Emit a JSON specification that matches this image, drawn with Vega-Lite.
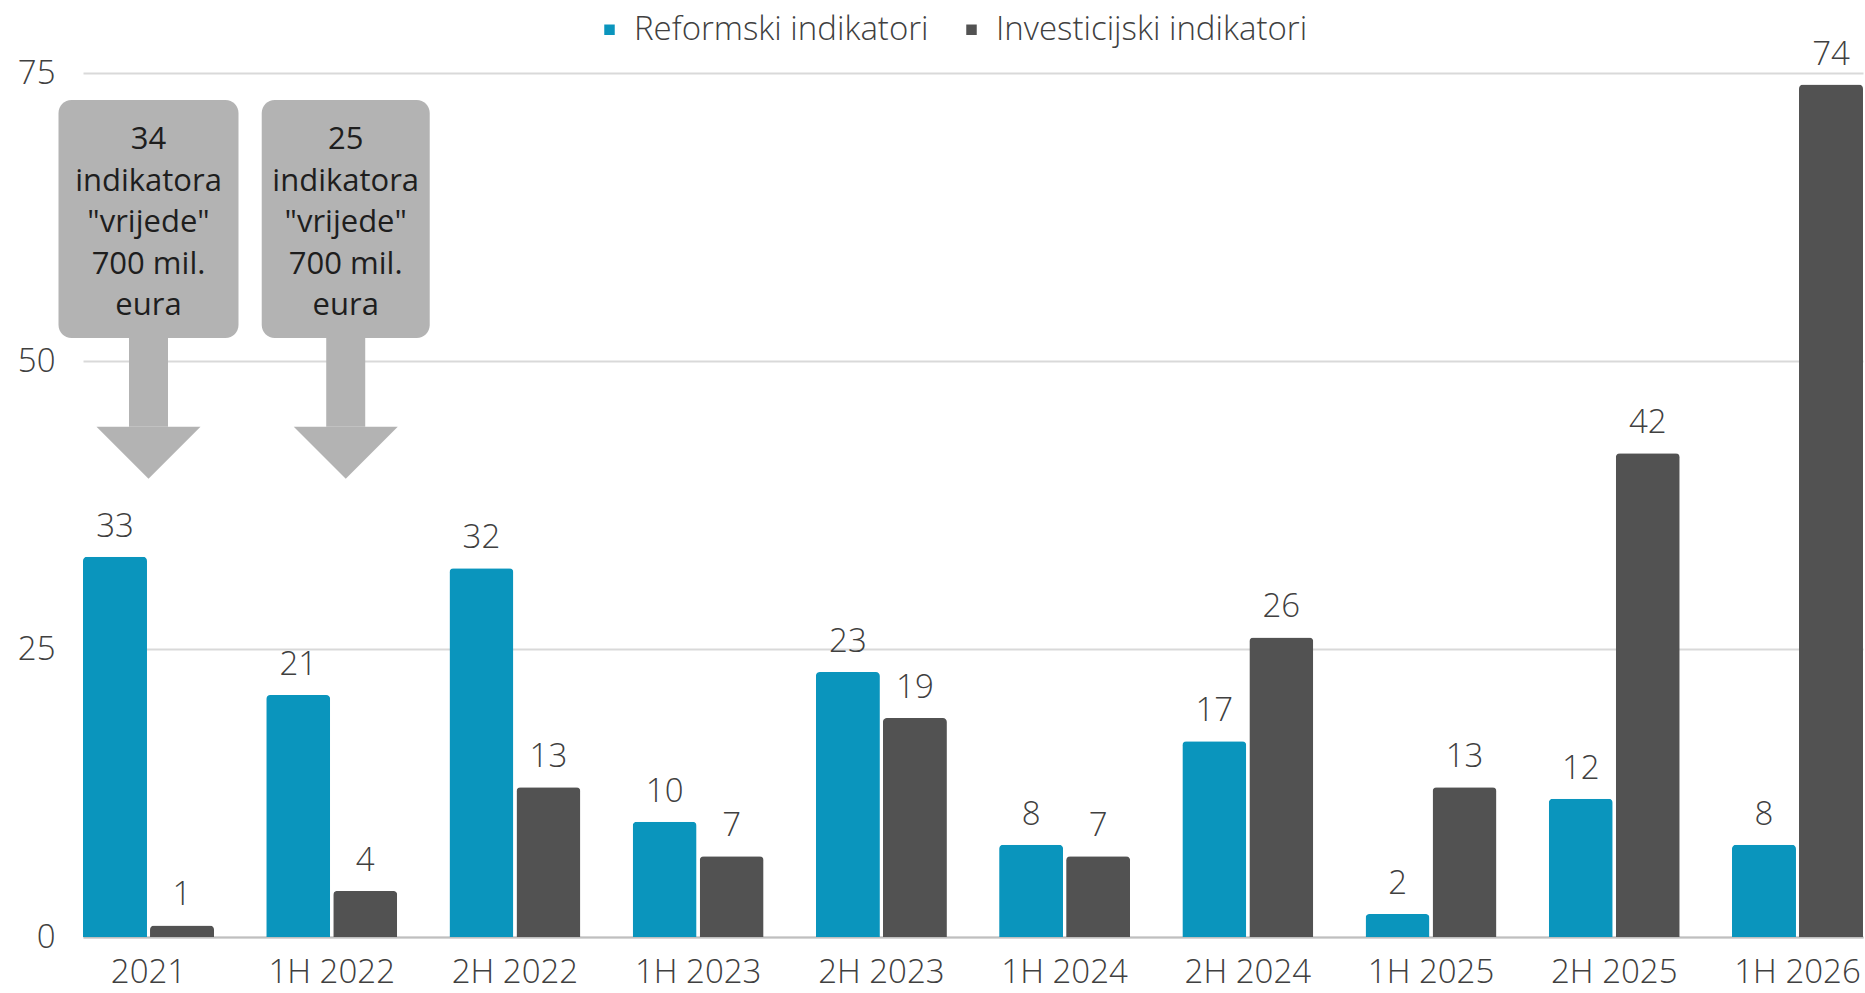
{
  "$schema": "https://vega.github.io/schema/vega-lite/v6.json",
  "width": 1780,
  "height": 864,
  "autosize": {"type": "none"},
  "padding": {"left": 83, "top": 73, "right": 2, "bottom": 56},
  "background": "white",
  "config": {"view": {"stroke": null}, "font": "Open Sans"},
  "datasets": {
    "bars": [
      {"period": "2021", "series": "Reformski indikatori", "value": 33},
      {"period": "2021", "series": "Investicijski indikatori", "value": 1},
      {"period": "1H 2022", "series": "Reformski indikatori", "value": 21},
      {"period": "1H 2022", "series": "Investicijski indikatori", "value": 4},
      {"period": "2H 2022", "series": "Reformski indikatori", "value": 32},
      {"period": "2H 2022", "series": "Investicijski indikatori", "value": 13},
      {"period": "1H 2023", "series": "Reformski indikatori", "value": 10},
      {"period": "1H 2023", "series": "Investicijski indikatori", "value": 7},
      {"period": "2H 2023", "series": "Reformski indikatori", "value": 23},
      {"period": "2H 2023", "series": "Investicijski indikatori", "value": 19},
      {"period": "1H 2024", "series": "Reformski indikatori", "value": 8},
      {"period": "1H 2024", "series": "Investicijski indikatori", "value": 7},
      {"period": "2H 2024", "series": "Reformski indikatori", "value": 17},
      {"period": "2H 2024", "series": "Investicijski indikatori", "value": 26},
      {"period": "1H 2025", "series": "Reformski indikatori", "value": 2},
      {"period": "1H 2025", "series": "Investicijski indikatori", "value": 13},
      {"period": "2H 2025", "series": "Reformski indikatori", "value": 12},
      {"period": "2H 2025", "series": "Investicijski indikatori", "value": 42},
      {"period": "1H 2026", "series": "Reformski indikatori", "value": 8},
      {"period": "1H 2026", "series": "Investicijski indikatori", "value": 74}
    ],
    "notes": [
      {"period": "2021", "boxTop": 72.66, "boxBottom": 52.0, "shaftBottom": 44.3, "textY": 68.4, "label": "34\nindikatora\n\"vrijede\"\n700 mil.\neura"},
      {"period": "1H 2022", "boxTop": 72.66, "boxBottom": 52.0, "shaftBottom": 44.3, "textY": 68.4, "label": "25\nindikatora\n\"vrijede\"\n700 mil.\neura"}
    ]
  },
  "encoding": {
    "x": {
      "field": "period",
      "type": "nominal",
      "sort": ["2021", "1H 2022", "2H 2022", "1H 2023", "2H 2023", "1H 2024", "2H 2024", "1H 2025", "2H 2025", "1H 2026"],
      "scale": {"domain": ["2021", "1H 2022", "2H 2022", "1H 2023", "2H 2023", "1H 2024", "2H 2024", "1H 2025", "2H 2025", "1H 2026"], "paddingInner": 0.285, "paddingOuter": 0},
      "title": null,
      "axis": {
        "labelAngle": 0,
        "labelFontSize": 33,
        "labelFontWeight": 300,
        "labelColor": "#404040",
        "labelPadding": 19,
        "ticks": false,
        "domainColor": "#bfbfbf",
        "domainWidth": 2,
        "grid": false
      }
    }
  },
  "layer": [
    {
      "data": {"name": "bars"},
      "mark": {"type": "bar", "cornerRadiusEnd": 4},
      "encoding": {
        "xOffset": {"field": "series", "type": "nominal", "sort": ["Reformski indikatori", "Investicijski indikatori"], "scale": {"paddingInner": 0.045, "paddingOuter": 0}},
        "y": {
          "field": "value",
          "type": "quantitative",
          "scale": {"domain": [0, 75], "nice": false},
          "title": null,
          "axis": {
            "values": [0, 25, 50, 75],
            "labelFontSize": 33,
            "labelFontWeight": 300,
            "labelColor": "#404040",
            "labelPadding": 28,
            "ticks": false,
            "domain": false,
            "grid": true,
            "gridColor": "#d9d9d9",
            "gridWidth": 2
          }
        },
        "color": {
          "field": "series",
          "type": "nominal",
          "scale": {"domain": ["Reformski indikatori", "Investicijski indikatori"], "range": ["#0a95bd", "#525252"]},
          "legend": {
            "orient": "none",
            "legendX": 510,
            "legendY": -60,
            "direction": "horizontal",
            "title": null,
            "symbolType": "square",
            "symbolSize": 110,
            "symbolStrokeWidth": 0,
            "labelFontSize": 33,
            "labelFontWeight": 300,
            "labelColor": "#404040",
            "labelLimit": 0,
            "labelOffset": 8,
            "columnPadding": 26
          }
        }
      }
    },
    {
      "data": {"name": "bars"},
      "mark": {"type": "text", "baseline": "alphabetic", "dy": -20, "fontSize": 33, "fontWeight": 300, "color": "#404040"},
      "encoding": {
        "xOffset": {"field": "series", "type": "nominal", "sort": ["Reformski indikatori", "Investicijski indikatori"], "scale": {"paddingInner": 0.045, "paddingOuter": 0}},
        "y": {"field": "value", "type": "quantitative"},
        "text": {"field": "value", "type": "quantitative"}
      }
    },
    {
      "data": {"name": "notes"},
      "transform": [{"filter": "datum.period === '2021'"}],
      "layer": [
        {
          "mark": {"type": "bar", "width": 180, "cornerRadius": 13, "color": "#b3b3b3"},
          "encoding": {"y": {"field": "boxTop", "type": "quantitative"}, "y2": {"field": "boxBottom"}}
        },
        {
          "mark": {"type": "bar", "width": 39, "color": "#b3b3b3"},
          "encoding": {"y": {"field": "boxBottom", "type": "quantitative"}, "y2": {"field": "shaftBottom"}}
        },
        {
          "mark": {"type": "point", "shape": "M-1,0L1,0L0,1Z", "size": 10816, "filled": true, "opacity": 1, "color": "#b3b3b3", "strokeWidth": 0},
          "encoding": {"y": {"field": "shaftBottom", "type": "quantitative"}}
        },
        {
          "mark": {"type": "text", "lineBreak": "\n", "lineHeight": 41.5, "baseline": "alphabetic", "align": "center", "fontSize": 31, "color": "#1e1e1e"},
          "encoding": {"y": {"field": "textY", "type": "quantitative"}, "text": {"field": "label", "type": "nominal"}}
        }
      ]
    },
    {
      "data": {"name": "notes"},
      "transform": [{"filter": "datum.period === '1H 2022'"}],
      "layer": [
        {
          "mark": {"type": "bar", "width": 168, "cornerRadius": 13, "color": "#b3b3b3", "xOffset": 14},
          "encoding": {"y": {"field": "boxTop", "type": "quantitative"}, "y2": {"field": "boxBottom"}}
        },
        {
          "mark": {"type": "bar", "width": 39, "color": "#b3b3b3", "xOffset": 14},
          "encoding": {"y": {"field": "boxBottom", "type": "quantitative"}, "y2": {"field": "shaftBottom"}}
        },
        {
          "mark": {"type": "point", "shape": "M-1,0L1,0L0,1Z", "size": 10816, "filled": true, "opacity": 1, "color": "#b3b3b3", "strokeWidth": 0, "xOffset": 14},
          "encoding": {"y": {"field": "shaftBottom", "type": "quantitative"}}
        },
        {
          "mark": {"type": "text", "lineBreak": "\n", "lineHeight": 41.5, "baseline": "alphabetic", "align": "center", "fontSize": 31, "color": "#1e1e1e", "dx": 14},
          "encoding": {"y": {"field": "textY", "type": "quantitative"}, "text": {"field": "label", "type": "nominal"}}
        }
      ]
    }
  ]
}
